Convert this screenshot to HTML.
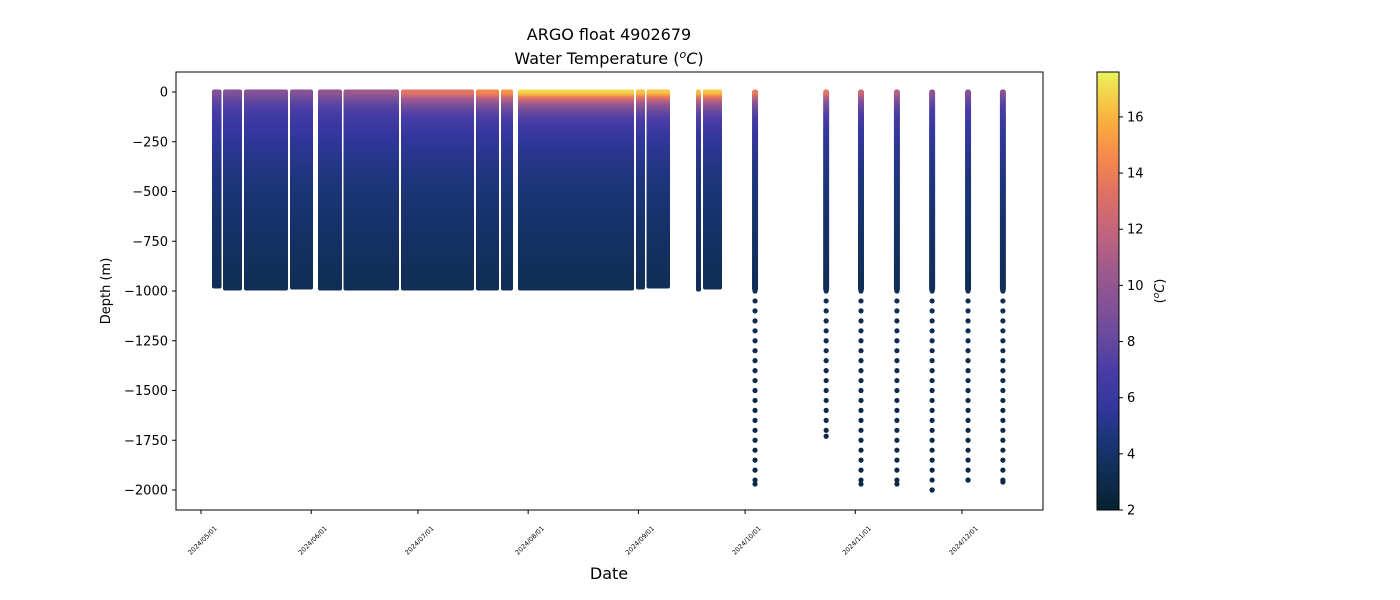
<!DOCTYPE html>
<html><head><meta charset="utf-8"><style>
body{margin:0;background:#fff;}
svg{display:block;font-family:"DejaVu Sans","Liberation Sans",sans-serif;}
</style></head><body>
<svg id="chart" width="1400" height="600" viewBox="0 0 1400 600" xmlns="http://www.w3.org/2000/svg">
<defs id="defs"></defs>
<text x="609" y="40" font-size="16" text-anchor="middle">ARGO float 4902679</text>
<text x="609" y="64" font-size="16" text-anchor="middle">Water Temperature (<tspan font-style="italic" dy="-6" font-size="11">o</tspan><tspan font-style="italic" dy="6">C</tspan>)</text>
<g id="marks"></g>
<rect x="176" y="72" width="867" height="438" fill="none" stroke="#000" stroke-width="1"/>
<g id="yaxis"></g>
<g id="xaxis"></g>
<text transform="translate(110,291) rotate(-90)" font-size="13" text-anchor="middle">Depth (m)</text>
<text x="609" y="579" font-size="16" text-anchor="middle">Date</text>
<rect id="cbar" x="1097" y="72" width="22" height="438" fill="url(#cbgrad)" stroke="#000" stroke-width="1"/>
<g id="caxis"></g>
<text transform="translate(1164,291) rotate(-90)" font-size="13" text-anchor="middle">(<tspan font-style="italic" dy="-5" font-size="9">o</tspan><tspan font-style="italic" dy="5">C</tspan>)</text>
</svg>
<script>
// ---- data ----
const blockStarts = [3.09, 6.19, 12.09, 25.03, 32.90, 40.07, 56.24, 77.33, 84.36, 89.14, 122.33, 125.28, 139.20, 141.17]; // days since 2024-05-01
const blockEnds   = [5.77, 11.53, 24.47, 31.50, 39.65, 55.68, 76.77, 83.80, 87.74, 121.77, 124.86, 131.89, 140.61, 146.51];
const blockSurfaceTemp = [9.3, 9.3, 9.5, 9.5, 10, 10.5, 13.5, 14.5, 15, 17, 16.5, 16.5, 16.5, 16.5];
const blockMaxDepth = [975, 985, 985, 980, 985, 985, 985, 985, 985, 985, 980, 975, 990, 980];
const profileDays = [155.8, 175.8, 185.6, 195.7, 205.6, 215.7, 225.5];
const profileSurfaceTemp = [14, 13.5, 12.5, 11.5, 10, 9.5, 9.5];
const profileMaxDepth = [1970, 1730, 1970, 1970, 2000, 1950, 1960];
const xTickDays = [0, 31, 61, 92, 123, 153, 184, 214];
const xTickLabels = ["2024/05/01","2024/06/01","2024/07/01","2024/08/01","2024/09/01","2024/10/01","2024/11/01","2024/12/01"];
const yTicks = [0, -250, -500, -750, -1000, -1250, -1500, -1750, -2000];
const cTicks = [2, 4, 6, 8, 10, 12, 14, 16];

// ---- scales ----
const NS = "http://www.w3.org/2000/svg";
const x = d => 201 + d * (962 - 201) / 214;
const y = v => 92 + (-v) * (490 - 92) / 2000;
const cmin = 2, cmax = 17.6;
const cy = v => 510 - (v - cmin) / (cmax - cmin) * 438;
const cmapStops = [[0,"#062230"],[0.08,"#0f2d52"],[0.16,"#1b3578"],[0.24,"#33379e"],[0.32,"#4a3da6"],[0.40,"#6a4a9e"],[0.48,"#875395"],[0.56,"#a35b8c"],[0.64,"#c3657c"],[0.72,"#de7065"],[0.80,"#f5874d"],[0.88,"#f9ab3f"],[0.95,"#f3d24a"],[1,"#e8f55c"]];
function hex(h){return [1,3,5].map(i=>parseInt(h.substr(i,2),16));}
function cmap(t){
  const f=Math.max(0,Math.min(1,(t-cmin)/(cmax-cmin)));
  for(let i=1;i<cmapStops.length;i++){
    if(f<=cmapStops[i][0]){
      const a=cmapStops[i-1],b=cmapStops[i],u=(f-a[0])/(b[0]-a[0]);
      const A=hex(a[1]),B=hex(b[1]);
      return "rgb("+A.map((c,k)=>Math.round(c+(B[k]-c)*u)).join(",")+")";
    }
  }
  return cmapStops[cmapStops.length-1][1];
}
function temp(d,T0){
  const base=2.6+4.6*Math.exp(-d/550);
  const mld=20;
  const dd=Math.max(0,d-mld);
  return base+(T0-(2.6+4.6))*Math.exp(-dd/55);
}
const defs=document.getElementById("defs");
const marks=document.getElementById("marks");
function mk(tag,attrs,parent){const e=document.createElementNS(NS,tag);for(const k in attrs)e.setAttribute(k,attrs[k]);parent.appendChild(e);return e;}

const cg=mk("linearGradient",{id:"cbgrad",x1:0,y1:1,x2:0,y2:0},defs);
cmapStops.forEach(s=>mk("stop",{offset:s[0],"stop-color":s[1]},cg));

function profileGrad(id,T0,maxD){
  const g=mk("linearGradient",{id:id,x1:0,y1:0,x2:0,y2:1},defs);
  const n=40;
  for(let i=0;i<=n;i++){
    const d=maxD*Math.pow(i/n,1.6);
    mk("stop",{offset:(d/maxD).toFixed(4),"stop-color":cmap(temp(d,T0))},g);
  }
  return "url(#"+id+")";
}

// dense blocks
blockStarts.forEach((s,i)=>{
  const fill=profileGrad("bg"+i,blockSurfaceTemp[i],blockMaxDepth[i]);
  const r=mk("rect",{x:x(s),y:y(0)-2.5,width:x(blockEnds[i])-x(s),height:y(-blockMaxDepth[i])-y(0)+5,rx:2,fill:fill},marks);
  
  
});
// sparse profiles
profileDays.forEach((d,i)=>{
  const g=document.createElementNS(NS,"g");
  
  
  marks.appendChild(g);
  const top=990;
  const fill=profileGrad("pg"+i,profileSurfaceTemp[i],top);
  mk("rect",{x:x(d)-3,y:y(0)-2.5,width:6,height:y(-top)-y(0)+5,rx:2.5,fill:fill},g);
  for(let dep=1000;dep<=profileMaxDepth[i];dep+=50){
    mk("circle",{cx:x(d),cy:y(-dep),r:2.6,fill:cmap(temp(dep,profileSurfaceTemp[i]))},g);
  }
  mk("circle",{cx:x(d),cy:y(-profileMaxDepth[i]),r:2.6,fill:cmap(temp(profileMaxDepth[i],profileSurfaceTemp[i]))},g);
});

// y axis
const ya=document.getElementById("yaxis");
yTicks.forEach(v=>{
  mk("line",{x1:172,x2:176,y1:y(v),y2:y(v),stroke:"#000"},ya);
  const t=mk("text",{x:168,y:y(v)+4.5,"font-size":13,"text-anchor":"end"},ya);
  t.textContent=v<0?"\u2212"+(-v):String(v);
  
  
});
// x axis
const xa=document.getElementById("xaxis");
xTickDays.forEach((d,i)=>{
  mk("line",{x1:x(d),x2:x(d),y1:510,y2:514,stroke:"#000"},xa);
  const t=mk("text",{transform:"translate("+(x(d)+3)+",542) rotate(-45)","font-size":6.5,"text-anchor":"middle"},xa);
  t.textContent=xTickLabels[i];
  
  
});
// colorbar axis
const ca=document.getElementById("caxis");
cTicks.forEach(v=>{
  mk("line",{x1:1119,x2:1123,y1:cy(v),y2:cy(v),stroke:"#000"},ca);
  const t=mk("text",{x:1127,y:cy(v)+4.5,"font-size":13},ca);
  t.textContent=String(v);
  
  
});
</script>
</body></html>
